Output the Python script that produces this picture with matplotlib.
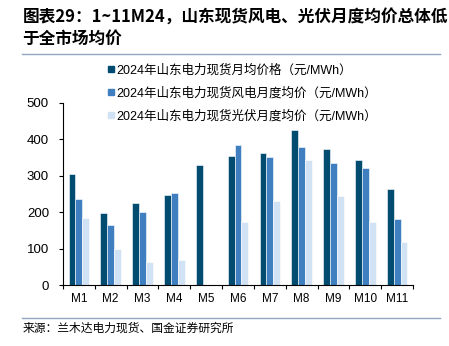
import numpy as np
import matplotlib.pyplot as plt
from matplotlib.lines import Line2D

plt.rcParams['font.family'] = ['Liberation Sans', 'Noto Sans CJK SC', 'DejaVu Sans']

months = ['M1', 'M2', 'M3', 'M4', 'M5', 'M6', 'M7', 'M8', 'M9', 'M10', 'M11']
avg_price = [306, 199, 224, 248, 330, 354, 363, 426, 372, 342, 264]
wind_price = [235, 166, 201, 252, 0, 385, 351, 378, 335, 322, 180]
solar_price = [184, 99, 62, 69, 0, 173, 230, 342, 245, 173, 118]

labels = ['2024年山东电力现货月均价格（元/MWh）',
          '2024年山东电力现货风电月度均价（元/MWh）',
          '2024年山东电力现货光伏月度均价（元/MWh）']
colors = ['#004B70', '#3F7FBF', '#D0E2F3']

fig = plt.figure(figsize=(4.49, 3.46), dpi=100)
ax = fig.add_axes([0.140, 0.176, 0.780, 0.527])

x = np.arange(len(months))
w = 0.215
for k, vals in enumerate([avg_price, wind_price, solar_price]):
    ax.bar(x + (k - 1) * w, vals, w, color=colors[k], edgecolor='white', linewidth=0.4)

ax.set_xlim(-0.5, len(months) - 0.5)
ax.set_ylim(0, 500)
ax.set_yticks([0, 100, 200, 300, 400, 500])
ax.tick_params(axis='y', labelsize=9.5, length=3, width=0.8, direction='out', pad=7)
ax.set_xticks(np.arange(len(months) + 1) - 0.5)
ax.set_xticklabels([])
ax.tick_params(axis='x', length=3, width=0.8, direction='out')
for i, m in enumerate(months):
    ax.text(i, -22, m, ha='center', va='top', fontsize=8.5)
for s in ['top', 'right']:
    ax.spines[s].set_visible(False)
ax.spines['left'].set_linewidth(0.8)
ax.spines['bottom'].set_linewidth(0.8)

handles = [Line2D([], [], marker='s', linestyle='', color=c, markersize=5) for c in colors]
fig.legend(handles, labels, loc='upper left', bbox_to_anchor=(0.225, 0.83),
           frameon=False, fontsize=9, handletextpad=0.0, handlelength=0.8,
           labelspacing=0.85, borderaxespad=0)

fig.text(0.05, 0.975, '图表29：1~11M24，山东现货风电、光伏月度均价总体低\n于全市场均价',
         fontsize=12, fontweight='bold', ha='left', va='top', linespacing=1.25,
         family=['Noto Sans CJK SC', 'DejaVu Sans'])
fig.add_artist(Line2D([0.05, 0.98], [0.843, 0.843], color='#8FA8C0', linewidth=1,
                      transform=fig.transFigure))
fig.add_artist(Line2D([0.05, 0.98], [0.082, 0.082], color='#8FA8C0', linewidth=1,
                      transform=fig.transFigure))
fig.text(0.05, 0.052, '来源：兰木达电力现货、国金证券研究所', fontsize=8.5,
         ha='left', va='center', family=['Noto Sans CJK SC', 'DejaVu Sans'])

fig.savefig('out.png', dpi=100)
